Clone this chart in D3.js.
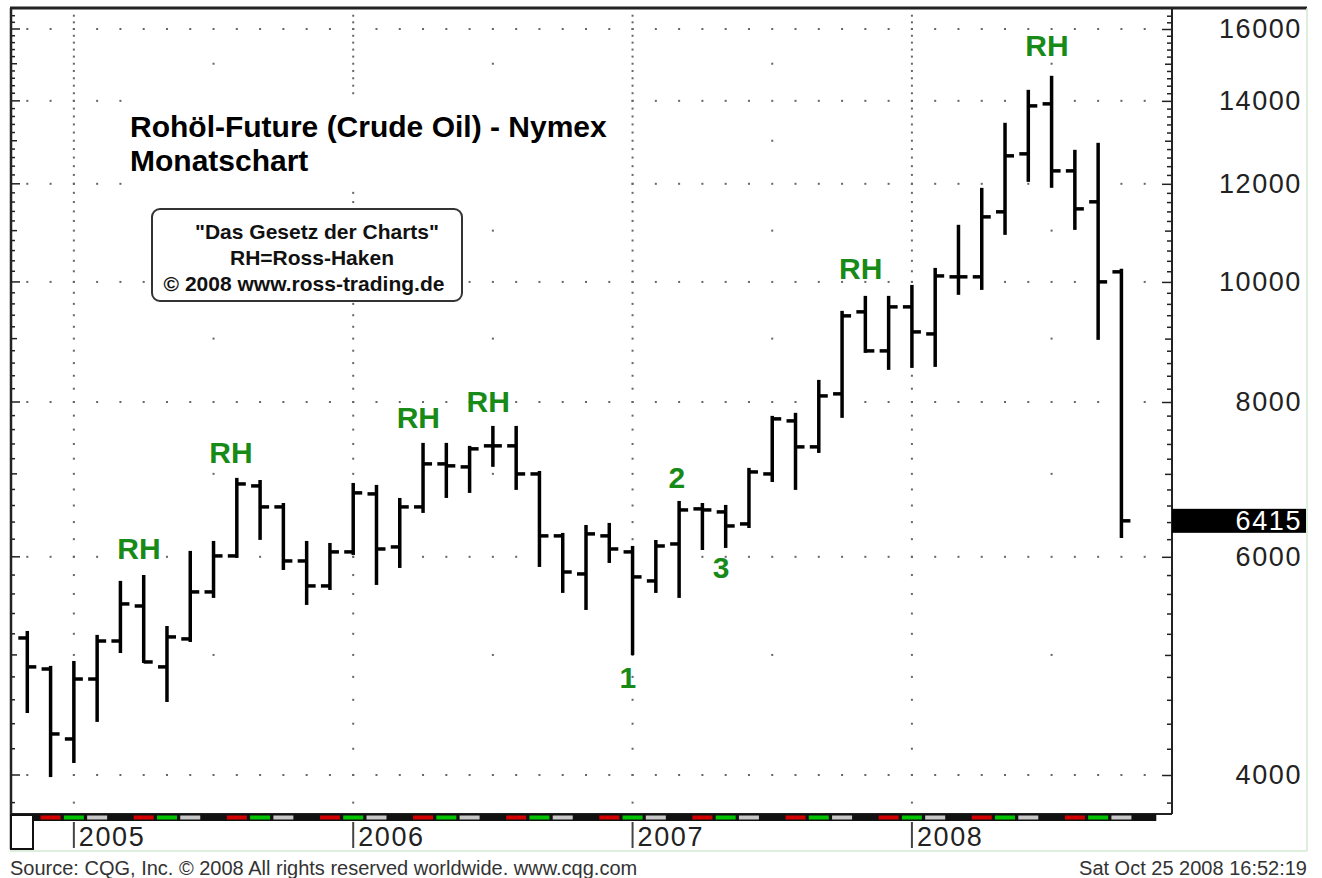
<!DOCTYPE html>
<html>
<head>
<meta charset="utf-8">
<script src="https://cdn.jsdelivr.net/npm/d3@7"></script>
<style>
  body { margin: 0; background: #fff; }
  svg { display: block; font-family: 'Liberation Sans', Arial, sans-serif; }
</style>
</head>
<body>
<svg width="1322" height="878"></svg>
<script>
// monthly bars, Nov 2004 .. Oct 2008 (cents / barrel)
const open = [5160, 4871, 4277, 4781, 5131, 5476, 4890, 5151, 5621, 6010, 6845, 6583,
  5954, 5684, 6055, 6744, 6111, 6583, 7131, 7091, 7374, 7374, 6999, 6238,
  5812, 6238, 6055, 5737, 6145, 6559, 6522, 6378, 6999, 7724, 7360, 8122,
  9459, 8797, 9547, 9079, 10095, 10095, 11391, 12687, 13922, 12292, 11605, 10189];
const high = [5218, 4890, 4935, 5180, 5727, 5790, 5266, 6055, 6168, 6935, 6908, 6619,
  6168, 6145, 6870, 6845, 6681, 7401, 7401, 7360, 7638, 7638, 7025, 6261,
  6354, 6378, 6111, 6179, 6644, 6619, 6595, 7065, 7782, 7826, 8320, 9459,
  9726, 9726, 9926, 10245, 11099, 11888, 13416, 14263, 14640, 12759, 12926, 10227];
const low = [4497, 3992, 4098, 4423, 5027, 4935, 4590, 5131, 5569, 5999, 6203, 5866,
  5497, 5652, 6032, 5705, 5888, 6522, 6706, 6769, 7105, 6807, 5899, 5621,
  5446, 5943, 5008, 5621, 5569, 6088, 6111, 6342, 6908, 6807, 7291, 7782,
  8781, 8508, 8539, 8555, 9781, 9871, 10934, 12066, 11933, 11036, 8996, 6226];
const close = [4890, 4317, 4781, 5131, 5497, 4935, 5170, 5621, 6010, 6870, 6583, 5954,
  5684, 6055, 6757, 6088, 6583, 7131, 7105, 7333, 7374, 6999, 6238, 5833,
  6261, 6088, 5780, 6122, 6546, 6546, 6354, 7025, 7753, 7360, 8091, 9389,
  8797, 9547, 9113, 10112, 10095, 11285, 12640, 13870, 12292, 11454, 10001, 6415];

const priceTicks = [4000, 6000, 8000, 10000, 12000, 14000, 16000];
const midLevels = [5000, 7000, 9000, 11000, 13000, 15000];
const minorLevels = d3.range(3800, 16800, 200);

// one slot per month, the last one (Nov 2008) stays empty
const months = d3.utcMonth.range(new Date(Date.UTC(2004, 10, 1)), new Date(Date.UTC(2008, 11, 1)));

const notes = ['RH', 'RH', 'RH', 'RH', 'RH', 'RH', '1', '2', '3'];
const noteMonth = [4.8, 8.75, 16.8, 19.8, 35.8, 43.8, 25.8, 27.9, 29.8];
const noteLevel = [5980, 7144, 7623, 7854, 10056, 15221, 4702, 6820, 5769];

const titleLines = ['Rohöl-Future (Crude Oil) - Nymex', 'Monatschart'];
const boxLines = ['"Das Gesetz der Charts"', 'RH=Ross-Haken', '© 2008 www.ross-trading.de'];
const stripColors = ['#111', '#d40000', '#00c400', '#c8c8c8'];

const svg = d3.select('svg');
const plot = { left: 11, right: 1172, top: 8, bottom: 814 };

const x = d3.scaleLinear().domain([0, months.length - 1]).range([27.3, 1144.7]);
const y = d3.scaleLog().domain([4000, 16000]).range([775, 29]);

const bars = d3.range(close.length).map(i => ({ i, o: open[i], h: high[i], l: low[i], c: close[i] }));

// ---- grid dots
const grid = svg.append('g').attr('fill', '#666');
const dot = (px, py) => grid.append('rect').attr('x', px - 1).attr('y', py - 1).attr('width', 2).attr('height', 2);

for (const v of priceTicks)
  months.forEach((m, i) => dot(x(i), y(v)));

months.forEach((m, i) => {
  if (m.getUTCMonth() === 0)
    minorLevels.forEach(v => { if (y(v) > plot.top + 3 && y(v) < plot.bottom - 3) dot(x(i), y(v)); });
  if (m.getUTCMonth() === 6)
    midLevels.forEach(v => dot(x(i), y(v)));
});

// ---- title block with white background
svg.append('rect').attr('x', 123).attr('y', 97).attr('width', 500).attr('height', 90).attr('fill', '#fff');
svg.append('g').selectAll('text')
  .data(titleLines)
  .join('text')
  .attr('x', 130)
  .attr('y', (d, k) => 137 + k * 34)
  .attr('font-size', 30)
  .attr('font-weight', 'bold')
  .attr('fill', '#000')
  .text(d => d);

svg.append('rect')
  .attr('x', 152).attr('y', 209).attr('width', 310).attr('height', 92)
  .attr('rx', 8)
  .attr('fill', '#fff').attr('stroke', '#333').attr('stroke-width', 2);
svg.append('g').selectAll('text')
  .data(boxLines)
  .join('text')
  .attr('x', (d, k) => [317, 312, 304][k])
  .attr('y', (d, k) => 239 + k * 26)
  .attr('text-anchor', 'middle')
  .attr('font-size', 21)
  .attr('font-weight', 'bold')
  .attr('fill', '#111')
  .text(d => d);

// ---- OHLC bars
const barG = svg.append('g').attr('stroke', '#000').attr('stroke-width', 3.5);
barG.selectAll('line.hl')
  .data(bars)
  .join('line')
  .attr('class', 'hl')
  .attr('x1', d => x(d.i)).attr('x2', d => x(d.i))
  .attr('y1', d => y(d.h) - 1).attr('y2', d => y(d.l) + 1);
barG.selectAll('line.op')
  .data(bars)
  .join('line')
  .attr('class', 'op')
  .attr('x1', d => x(d.i) - 9).attr('x2', d => x(d.i))
  .attr('y1', d => y(d.o)).attr('y2', d => y(d.o));
barG.selectAll('line.cl')
  .data(bars)
  .join('line')
  .attr('class', 'cl')
  .attr('x1', d => x(d.i)).attr('x2', d => x(d.i) + 9)
  .attr('y1', d => y(d.c)).attr('y2', d => y(d.c));

// ---- green annotations
svg.append('g').selectAll('text')
  .data(notes)
  .join('text')
  .attr('x', (d, k) => x(noteMonth[k]))
  .attr('y', (d, k) => y(noteLevel[k]))
  .attr('text-anchor', 'middle')
  .attr('font-size', 30)
  .attr('font-weight', 'bold')
  .attr('fill', '#178a17')
  .text(d => d);

// ---- frame and axis ticks
const tickLen = v => (priceTicks.includes(v) ? 9 : midLevels.includes(v) ? 6 : 4);
const inPlot = minorLevels.filter(v => y(v) > plot.top + 2 && y(v) < plot.bottom - 2);

svg.append('g').attr('stroke', '#222').attr('stroke-width', 1.5)
  .selectAll('line')
  .data(inPlot)
  .join('line')
  .attr('x1', plot.left).attr('x2', v => plot.left + tickLen(v))
  .attr('y1', v => y(v)).attr('y2', v => y(v));

const rightAxis = d3.axisLeft(y).tickValues(inPlot).tickFormat('').tickSizeOuter(0);
svg.append('g')
  .attr('transform', `translate(${plot.right},0)`)
  .call(rightAxis)
  .call(g => g.select('.domain').remove())
  .call(g => g.selectAll('.tick line')
    .attr('x2', v => -tickLen(v) - 1)
    .attr('stroke', '#222')
    .attr('stroke-width', 1.5));

const frame = svg.append('g').attr('stroke', '#222').attr('fill', 'none');
frame.append('line').attr('x1', 10).attr('x2', 1307).attr('y1', plot.top).attr('y2', plot.top).attr('stroke-width', 3);
frame.append('line').attr('x1', plot.left).attr('x2', plot.left).attr('y1', plot.top).attr('y2', 849).attr('stroke-width', 2.5);
frame.append('line').attr('x1', plot.right).attr('x2', plot.right).attr('y1', plot.top).attr('y2', plot.bottom).attr('stroke-width', 2);
frame.append('line').attr('x1', plot.left).attr('x2', plot.right).attr('y1', plot.bottom).attr('y2', plot.bottom).attr('stroke-width', 2);

// light green outer frame
const outer = svg.append('g').attr('stroke', '#d2e8d2').attr('stroke-width', 1.5);
outer.append('line').attr('x1', 10).attr('x2', 1307).attr('y1', 851).attr('y2', 851);
outer.append('line').attr('x1', 1307).attr('x2', 1307).attr('y1', 8).attr('y2', 851);

// ---- month colour strip
const strip = svg.append('g');
strip.append('rect').attr('x', 33).attr('y', 814).attr('width', x(48) + 11.6 - 33).attr('height', 7).attr('fill', '#111');
strip.selectAll('rect.seg')
  .data(months.slice(1))
  .join('rect')
  .attr('class', 'seg')
  .attr('x', (m, k) => x(k + 1) - 10)
  .attr('y', 815.5)
  .attr('width', 20)
  .attr('height', 4)
  .attr('fill', (m, k) => stripColors[(k + 1) % 4]);

svg.append('rect').attr('x', 11).attr('y', 815).attr('width', 22).attr('height', 34)
  .attr('fill', '#fff').attr('stroke', '#111').attr('stroke-width', 2);

// ---- year labels
const years = months.map((m, i) => ({ m, i })).filter(d => d.m.getUTCMonth() === 0);
const yearG = svg.append('g');
yearG.selectAll('line')
  .data(years)
  .join('line')
  .attr('x1', d => x(d.i)).attr('x2', d => x(d.i))
  .attr('y1', 822).attr('y2', 848)
  .attr('stroke', '#444').attr('stroke-width', 2);
yearG.selectAll('text')
  .data(years)
  .join('text')
  .attr('x', d => x(d.i) + 5)
  .attr('y', 846)
  .attr('font-size', 27)
  .attr('letter-spacing', 1.6)
  .attr('fill', '#222')
  .text(d => d3.utcFormat('%Y')(d.m));

// ---- price labels
svg.append('g').selectAll('text')
  .data(priceTicks)
  .join('text')
  .attr('x', 1302)
  .attr('y', v => y(v))
  .attr('dy', '0.35em')
  .attr('text-anchor', 'end')
  .attr('font-size', 27)
  .attr('letter-spacing', 1.6)
  .attr('fill', '#222')
  .text(v => v);

const last = close[close.length - 1];
svg.append('rect').attr('x', plot.right).attr('y', y(last) - 12).attr('width', 134).attr('height', 24).attr('fill', '#000');
svg.append('text')
  .attr('x', 1302)
  .attr('y', y(last))
  .attr('dy', '0.35em')
  .attr('text-anchor', 'end')
  .attr('font-size', 27)
  .attr('letter-spacing', 1.6)
  .attr('fill', '#fff')
  .text(last);

// ---- footer
svg.append('text').attr('x', 10).attr('y', 875).attr('font-size', 20).attr('fill', '#333')
  .text('Source: CQG, Inc. © 2008 All rights reserved worldwide. www.cqg.com');
svg.append('text').attr('x', 1307).attr('y', 875).attr('font-size', 20).attr('fill', '#333')
  .attr('text-anchor', 'end')
  .text('Sat Oct 25 2008 16:52:19');
</script>
</body>
</html>
